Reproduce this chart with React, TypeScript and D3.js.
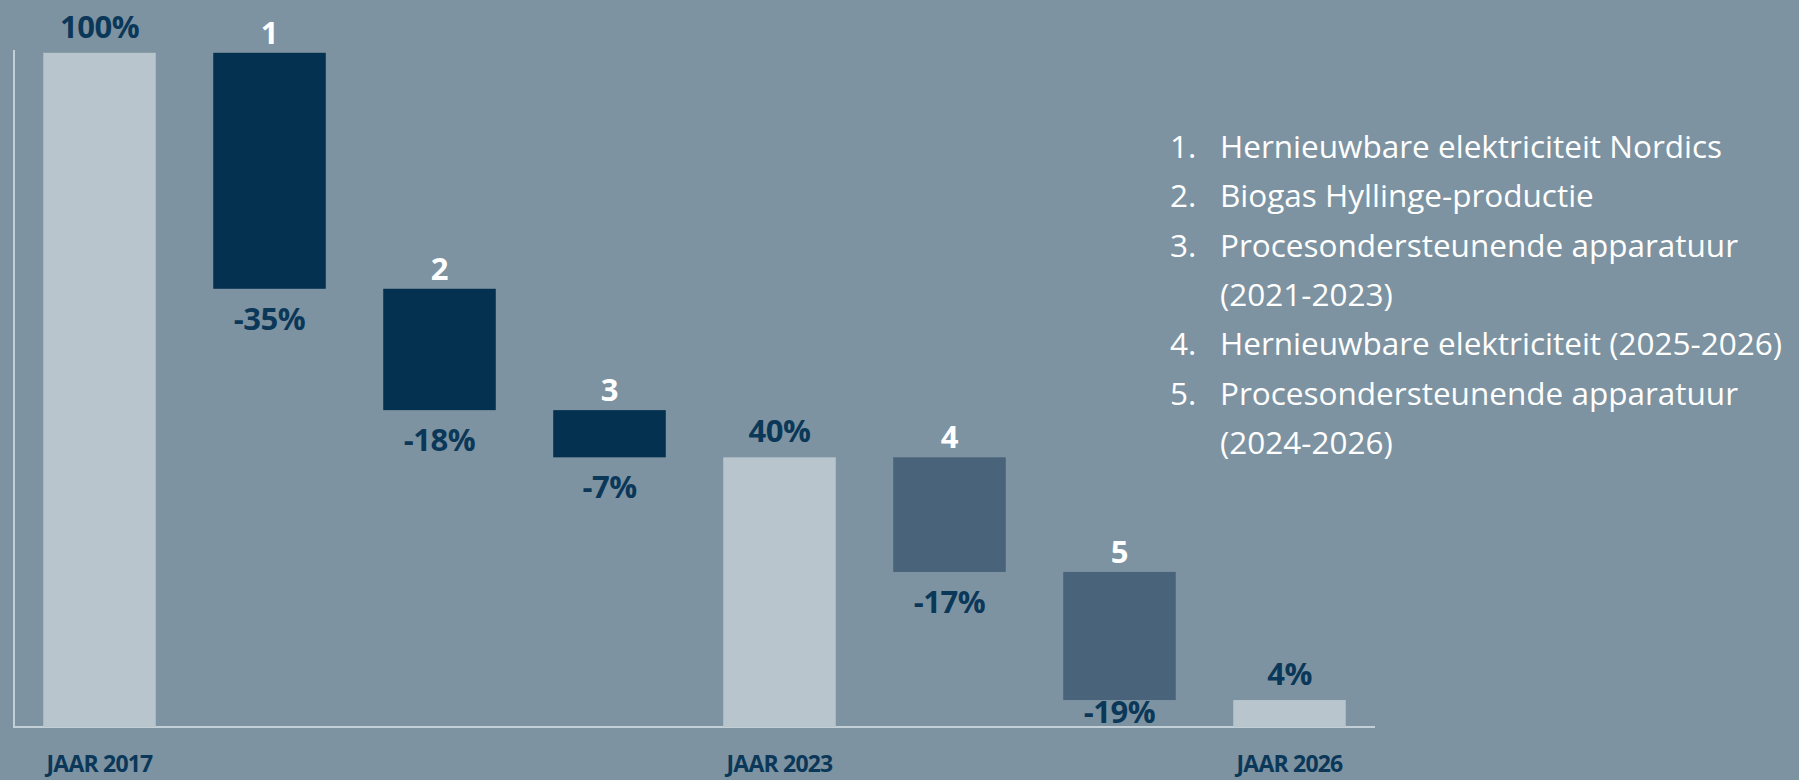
import React from "react";
import * as d3 from "d3";

const stepKeys = ["2017", "1", "2", "3", "2023", "4", "5", "2026"];
const stepValues = [100, -35, -18, -7, 40, -17, -19, 4];
const stepTypes = ["total", "phase1", "phase1", "phase1", "total", "phase2", "phase2", "total"];
const stepNumbers = ["", "1", "2", "3", "", "4", "5", ""];
const axisLabels = ["JAAR 2017", "", "", "", "JAAR 2023", "", "", "JAAR 2026"];
const legendNumbers = ["1.", "2.", "3.", "", "4.", "5.", ""];
const legendTexts = [
  "Hernieuwbare elektriciteit Nordics",
  "Biogas Hyllinge-productie",
  "Procesondersteunende apparatuur",
  "(2021-2023)",
  "Hernieuwbare elektriciteit (2025-2026)",
  "Procesondersteunende apparatuur",
  "(2024-2026)",
];

const W = 1799;
const H = 780;
const BG = "#7d93a1";
const colors: Record<string, string> = {
  total: "#b8c5cd",
  phase1: "#03314f",
  phase2: "#48637a",
};
const NAVY = "#0b3859";
const AXIS = "#c3cfd6";
const FONT = "'Open Sans', sans-serif";

export default function App() {
  const x = d3
    .scaleBand<string>()
    .domain(stepKeys)
    .range([14, 1375])
    .paddingInner(0.338)
    .paddingOuter(0.172);
  const y = d3.scaleLinear().domain([0, 100]).range([727, 52.8]);

  let running = 0;
  const bars = stepKeys.map((k, i) => {
    const v = stepValues[i];
    let lo: number, hi: number;
    if (stepTypes[i] === "total") {
      lo = 0;
      hi = v;
      running = v;
    } else {
      hi = running;
      lo = running + v;
      running = lo;
    }
    return { k, v, lo, hi, type: stepTypes[i], num: stepNumbers[i], axis: axisLabels[i] };
  });

  const bw = x.bandwidth();

  return (
    <svg
      width={W}
      height={H}
      style={{ position: "absolute", left: 0, top: 0, background: BG }}
      fontFamily={FONT}
    >
      <rect x={0} y={0} width={W} height={H} fill={BG} />
      <line x1={14} x2={14} y1={50} y2={y(0)} stroke={AXIS} strokeWidth={2} />
      <line x1={13} x2={1375} y1={y(0)} y2={y(0)} stroke={AXIS} strokeWidth={2} />
      {bars.map((b) => {
        const x0 = x(b.k)!;
        const cx = x0 + bw / 2;
        const top = y(b.hi);
        const bot = y(b.lo);
        return (
          <g key={b.k}>
            <rect x={x0} y={top} width={bw} height={bot - top} fill={colors[b.type]} />
            {b.type === "total" ? (
              <text x={cx} y={top - 15} textAnchor="middle" fill={NAVY} fontSize={31} fontWeight={700} letterSpacing={-0.5}>
                {b.v}%
              </text>
            ) : (
              <>
                <text x={cx} y={top - 9} textAnchor="middle" fill="#ffffff" fontSize={31} fontWeight={700}>
                  {b.num}
                </text>
                <text
                  x={cx}
                  y={Math.min(bot + 41, y(0) - 4)}
                  textAnchor="middle"
                  fill={NAVY}
                  fontSize={31}
                  fontWeight={700}
                  letterSpacing={-0.5}
                >
                  {b.v}%
                </text>
              </>
            )}
            {b.axis && (
              <text x={cx} y={772} textAnchor="middle" fill={NAVY} fontSize={23} fontWeight={700} letterSpacing={-0.8}>
                {b.axis}
              </text>
            )}
          </g>
        );
      })}
      {legendTexts.map((t, i) => (
        <g key={i}>
          {legendNumbers[i] && (
            <text x={1170} y={158 + i * 49.3} fill="#ffffff" fontSize={31.5}>
              {legendNumbers[i]}
            </text>
          )}
          <text x={1220} y={158 + i * 49.3} fill="#ffffff" fontSize={31.5}>
            {t}
          </text>
        </g>
      ))}
    </svg>
  );
}
